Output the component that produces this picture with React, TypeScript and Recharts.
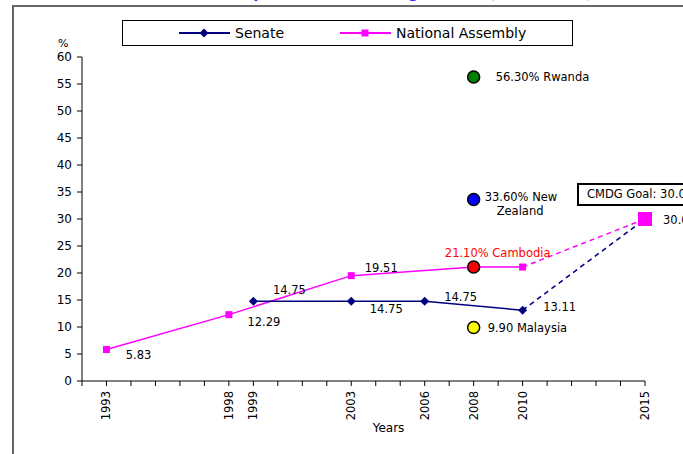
import React from 'react';
import { ComposedChart, Line, Scatter, XAxis, YAxis, LabelList } from 'recharts';

// tick labels on the year axis
const labelYears = [1993, 1998, 1999, 2003, 2006, 2008, 2010, 2015];
const allYears = Array.from({ length: 24 }, (_, i) => 1992 + i);
const yTicks = [0, 5, 10, 15, 20, 25, 30, 35, 40, 45, 50, 55, 60];

// Senate
const senateYears = [1999, 2003, 2006, 2010];
const senateValues = [14.75, 14.75, 14.75, 13.11];

// National Assembly
const assemblyYears = [1993, 1998, 2003, 2008, 2010];
const assemblyValues = [5.83, 12.29, 19.51, 21.1, 21.1];

// projection to the CMDG goal
const goalYears = [2010, 2015];
const senateGoal = [13.11, 30];
const assemblyGoal = [21.1, 30];

// comparison countries (2008)
const countryNames = ['56.30% Rwanda', '33.60% New Zealand', '21.10% Cambodia', '9.90 Malaysia'];
const countryValues = [56.3, 33.6, 21.1, 9.9];
const countryColors = ['#008000', '#0000ff', '#ff0000', '#ffff00'];

const NAVY = '#000080';
const MAGENTA = '#ff00ff';
const FONT = "'DejaVu Sans', sans-serif";

const senateData = senateYears.map((year, i) => ({ year, value: senateValues[i] }));
const assemblyData = assemblyYears.map((year, i) => ({ year, value: assemblyValues[i] }));
const senateGoalData = goalYears.map((year, i) => ({ year, value: senateGoal[i] }));
const assemblyGoalData = goalYears.map((year, i) => ({ year, value: assemblyGoal[i] }));
const countryData = countryNames.map((name, i) => ({ year: 2008, value: countryValues[i], name, color: countryColors[i] }));

const Diamond = ({ cx, cy, size = 4.5 }: any) =>
  cx == null ? null : (
    <polygon points={`${cx},${cy - size} ${cx + size},${cy} ${cx},${cy + size} ${cx - size},${cy}`} fill={NAVY} />
  );

const Square = ({ cx, cy, size = 7 }: any) =>
  cx == null ? null : <rect x={cx - size / 2} y={cy - size / 2} width={size} height={size} fill={MAGENTA} />;

const labelAt = (offsets: (number[] | null)[], anchor = 'middle') => (props: any) => {
  const { x, y, value, index } = props;
  const o = offsets[index];
  if (!o) return null;
  return (
    <text x={x + o[0]} y={y + o[1]} textAnchor={anchor} dominantBaseline="central" fontSize={11.5} fontFamily={FONT} fill="#000">
      {Number(value).toFixed(2)}
    </text>
  );
};

const countryLabel = (props: any) => {
  const { x, y, index } = props;
  const txt = { fontSize: 11.5, fontFamily: FONT, dominantBaseline: 'central' as const };
  if (index === 0) return <text x={x + 22} y={y} {...txt} fill="#000">56.30% Rwanda</text>;
  if (index === 1)
    return (
      <g>
        <text x={x + 11} y={y - 3} {...txt} fill="#000">33.60% New</text>
        <text x={x + 23} y={y + 11} {...txt} fill="#000">Zealand</text>
      </g>
    );
  if (index === 2) return <text x={x + 24} y={y - 14} {...txt} textAnchor="middle" fill="#ff0000">21.10% Cambodia</text>;
  return <text x={x + 14} y={y} {...txt} fill="#000">9.90 Malaysia</text>;
};

const YearTick = ({ x, y, payload }: any) => {
  if (!labelYears.includes(payload.value)) return null;
  return (
    <text transform={`translate(${x},${y + 3}) rotate(-90)`} textAnchor="end" dominantBaseline="central" fontSize={11.5} fontFamily={FONT} fill="#000">
      {payload.value}
    </text>
  );
};

const LegendBox = () => (
  <div style={{ position: 'absolute', left: 122, top: 20, width: 449, height: 24, border: '1px solid #000', background: '#fff' }}>
    <svg width={449} height={24} style={{ position: 'absolute', left: 0, top: 0 }}>
      <line x1={56} x2={107} y1={12} y2={12} stroke={NAVY} strokeWidth={2} />
      <Diamond cx={81} cy={12} />
      <text x={112} y={12} dominantBaseline="central" fontSize={14} fontFamily={FONT}>Senate</text>
      <line x1={217} x2={268} y1={12} y2={12} stroke={MAGENTA} strokeWidth={2} />
      <Square cx={242} cy={12} />
      <text x={273} y={12} dominantBaseline="central" fontSize={14} fontFamily={FONT}>National Assembly</text>
    </svg>
  </div>
);

const App: React.FC = () => (
  <div style={{ position: 'absolute', left: 0, top: 0, width: 683, height: 454, overflow: 'hidden', background: '#fff' }}>
    <div style={{ position: 'absolute', left: 150, top: -16, color: '#3333ff', fontFamily: FONT, fontWeight: 'bold', fontSize: 15, whiteSpace: 'nowrap' }}>
      Women's Representation in Legislature (1993-2015)
    </div>
    <div style={{ position: 'absolute', left: 12, top: 5, width: 700, height: 460, border: '2px solid #666' }} />
    <ComposedChart width={683} height={454} margin={{ top: 57, right: 38, bottom: 0, left: 0 }} style={{ position: 'absolute', left: 0, top: 0 }}>
      <XAxis
        dataKey="year"
        type="number"
        domain={[1992, 2015]}
        ticks={allYears}
        interval={0}
        tick={<YearTick />}
        tickSize={5}
        height={73}
        stroke="#000"
        allowDuplicatedCategory={false}
        label={{ value: 'Years', position: 'insideBottom', offset: 22, dx: 25, fontSize: 12, fontFamily: FONT, fill: '#000' }}
      />
      <YAxis
        type="number"
        domain={[0, 60]}
        ticks={yTicks}
        width={82}
        tickSize={5}
        tickMargin={5}
        stroke="#000"
        tick={{ fontSize: 12, fontFamily: FONT, fill: '#000' }}
      />
      <Line data={senateGoalData} dataKey="value" stroke={NAVY} strokeWidth={1.5} strokeDasharray="5 4" dot={false} isAnimationActive={false} />
      <Line data={assemblyGoalData} dataKey="value" stroke={MAGENTA} strokeWidth={1.5} strokeDasharray="5 4" isAnimationActive={false}
        dot={(p: any) => (p.index === 1 ? <Square key="goal" cx={p.cx} cy={p.cy} size={14} /> : <g key={`g${p.index}`} />)}>
        <LabelList content={labelAt([null, [18, 1]], 'start')} />
      </Line>
      <Line data={assemblyData} dataKey="value" name="National Assembly" stroke={MAGENTA} strokeWidth={1.5} isAnimationActive={false}
        dot={(p: any) => <Square key={`a${p.index}`} cx={p.cx} cy={p.cy} />}>
        <LabelList content={labelAt([[32, 5], [35, 7], [30, -8], null, null])} />
      </Line>
      <Line data={senateData} dataKey="value" name="Senate" stroke={NAVY} strokeWidth={1.5} isAnimationActive={false}
        dot={(p: any) => <Diamond key={`s${p.index}`} cx={p.cx} cy={p.cy} />}>
        <LabelList content={labelAt([[36, -11], [35, 8], [36, -4], [37, -3]])} />
      </Line>
      <Scatter data={countryData} dataKey="value" isAnimationActive={false}
        shape={(p: any) => <circle cx={p.cx} cy={p.cy} r={6} fill={p.payload.color} stroke="#000" strokeWidth={1.5} />}>
        <LabelList content={(p: any) => countryLabel({ x: p.x + p.width / 2, y: p.y + p.height / 2, index: p.index })} />
      </Scatter>
    </ComposedChart>
    <LegendBox />
    <div style={{ position: 'absolute', left: 58, top: 37, fontFamily: FONT, fontSize: 11 }}>%</div>
    <div style={{ position: 'absolute', left: 577, top: 183, height: 19, width: 140, border: '2px solid #000', background: '#fff', fontFamily: FONT, fontSize: 11.5, lineHeight: '19px', paddingLeft: 8 }}>
      CMDG Goal: 30.00%
    </div>
  </div>
);

export default App;
